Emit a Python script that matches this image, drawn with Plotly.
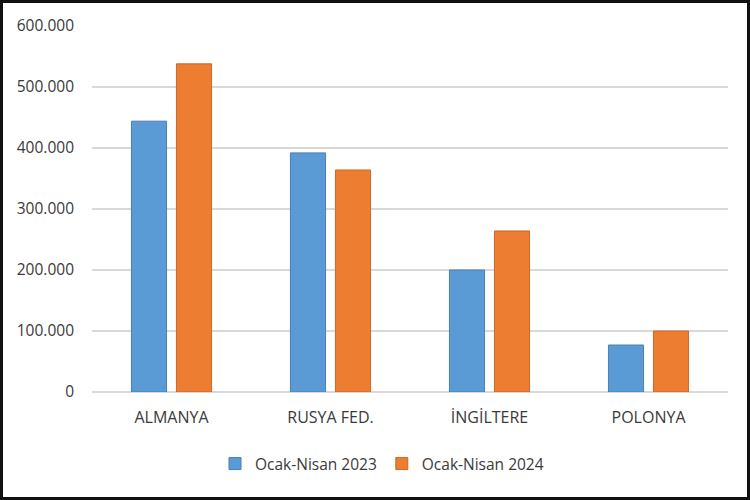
import plotly.graph_objects as go

categories = ["ALMANYA", "RUSYA FED.", "İNGİLTERE", "POLONYA"]
series_2023 = [444000, 392000, 200000, 77000]
series_2024 = [538000, 364000, 264000, 100000]
names = ["Ocak-Nisan 2023", "Ocak-Nisan 2024"]
tick_vals = [0, 100000, 200000, 300000, 400000, 500000, 600000]

W, H = 750, 500
ml, mr, mt, mb = 92, 22, 26, 108
pw, ph = W - ml - mr, H - mt - mb
txt = "#3A3A3A"

fig = go.Figure()
fig.add_trace(go.Bar(x=categories, y=series_2023, name=names[0],
                     marker=dict(color="#5B9BD5", line=dict(color="#4A7FB0", width=1))))
fig.add_trace(go.Bar(x=categories, y=series_2024, name=names[1],
                     marker=dict(color="#ED7D31", line=dict(color="#C8692A", width=1))))

fig.update_layout(
    width=W, height=H,
    margin=dict(l=ml, r=mr, t=mt, b=mb),
    paper_bgcolor="white", plot_bgcolor="white",
    barmode="group", bargap=0.434, bargroupgap=0.22,
    separators=",.",
    font=dict(family="Open Sans, Noto Sans, sans-serif", size=15, color=txt),
    showlegend=True,
    legend=dict(orientation="h", x=(382 - ml) / pw, xanchor="center",
                y=(mt + ph - 464) / ph, yanchor="middle",
                font=dict(size=15.5, color=txt), itemwidth=30,
                traceorder="normal"),
    xaxis=dict(showgrid=False, showline=False, ticks="", ticklabelstandoff=14,
               tickfont=dict(size=16, color=txt)),
    yaxis=dict(range=[0, 600000], tickvals=tick_vals, tickformat=",d",
               showgrid=True, gridcolor="#D9D9D9", gridwidth=1.5,
               zeroline=True, zerolinecolor="#D9D9D9", zerolinewidth=1.5,
               showline=False, ticks="", ticklabelstandoff=17,
               tickfont=dict(size=15.5, color=txt)),
)

fig.add_shape(type="rect", xref="paper", yref="paper",
              x0=-(ml - 1.5) / pw, x1=1 + (mr - 1.5) / pw,
              y0=-(mb - 1.5) / ph, y1=1 + (mt - 1.5) / ph,
              line=dict(color="#111111", width=3), fillcolor="rgba(0,0,0,0)")

fig.write_html("out.html", config={"displayModeBar": False},
               post_script="document.body.style.margin='0';")
